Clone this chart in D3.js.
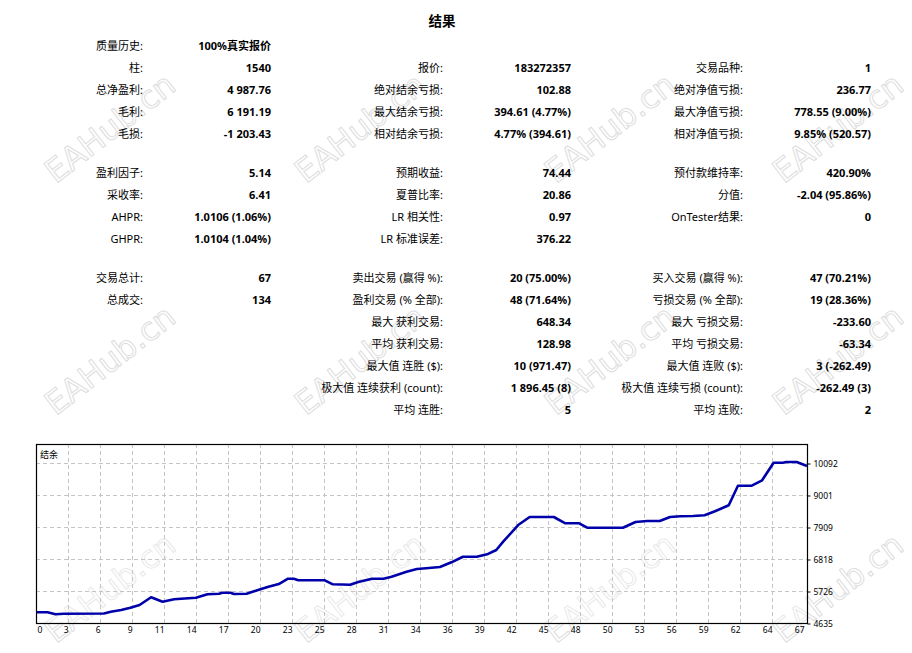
<!DOCTYPE html>
<html><head><meta charset="utf-8">
<script src="https://cdn.jsdelivr.net/npm/d3@7/dist/d3.min.js"></script>
<style>
html,body{margin:0;padding:0;background:#fff;}
svg{display:block;}
text{font-family:"Noto Sans","Noto Sans CJK SC",sans-serif;}
</style></head>
<body><svg id="c" width="912" height="653"></svg>
<script>
// ---------- table data ----------
const title = "结果";
const block1Labels1 = ["质量历史:", "柱:", "总净盈利:", "毛利:", "毛损:"];
const block1Values1 = ["100%真实报价", "1540", "4 987.76", "6 191.19", "-1 203.43"];
const block1Labels2 = ["", "报价:", "绝对结余亏损:", "最大结余亏损:", "相对结余亏损:"];
const block1Values2 = ["", "183272357", "102.88", "394.61 (4.77%)", "4.77% (394.61)"];
const block1Labels3 = ["", "交易品种:", "绝对净值亏损:", "最大净值亏损:", "相对净值亏损:"];
const block1Values3 = ["", "1", "236.77", "778.55 (9.00%)", "9.85% (520.57)"];

const block2Labels1 = ["盈利因子:", "采收率:", "AHPR:", "GHPR:"];
const block2Values1 = ["5.14", "6.41", "1.0106 (1.06%)", "1.0104 (1.04%)"];
const block2Labels2 = ["预期收益:", "夏普比率:", "LR 相关性:", "LR 标准误差:"];
const block2Values2 = ["74.44", "20.86", "0.97", "376.22"];
const block2Labels3 = ["预付款维持率:", "分值:", "OnTester结果:"];
const block2Values3 = ["420.90%", "-2.04 (95.86%)", "0"];

const block3Labels1 = ["交易总计:", "总成交:"];
const block3Values1 = ["67", "134"];
const block3Labels2 = ["卖出交易 (赢得 %):", "盈利交易 (% 全部):", "最大 获利交易:", "平均 获利交易:", "最大值 连胜 ($):", "极大值 连续获利 (count):", "平均 连胜:"];
const block3Values2 = ["20 (75.00%)", "48 (71.64%)", "648.34", "128.98", "10 (971.47)", "1 896.45 (8)", "5"];
const block3Labels3 = ["买入交易 (赢得 %):", "亏损交易 (% 全部):", "最大 亏损交易:", "平均 亏损交易:", "最大值 连败 ($):", "极大值 连续亏损 (count):", "平均 连败:"];
const block3Values3 = ["47 (70.21%)", "19 (28.36%)", "-233.60", "-63.34", "3 (-262.49)", "-262.49 (3)", "2"];

// ---------- chart data ----------
const chartLabel = "结余";
const xTickLabels = ["0","3","6","9","11","14","17","20","23","25","28","31","34","36","39","42","45","48","50","53","56","59","62","64","67"];
const yTickValues = [4635, 5726, 6818, 7909, 9001, 10092];
const tradeNo = [0,1,1.7,2.4,5.9,6.5,7.4,8.2,9.0,10.0,11.0,12.0,12.6,13.9,14.9,15.9,16.2,16.9,17.2,18.3,19.3,20.2,21.1,21.9,22.4,22.8,25.1,25.8,27.3,28.0,29.2,30.2,30.9,32.2,33.1,33.9,35.1,36.1,37.1,38.3,39.2,40.0,40.6,41.9,42.9,45.0,46.0,47.2,47.9,51.0,52.1,53.1,54.2,55.1,56.0,57.1,58.1,59.0,60.2,61.0,62.2,63.1,64.1,64.9,65.2,66.1,67];
const balance = [5000,5000,4935,4950,4960,5020,5078,5157,5249,5512,5361,5443,5464,5498,5614,5634,5668,5668,5624,5634,5760,5873,5965,6146,6146,6091,6091,5955,5941,6033,6146,6146,6214,6385,6477,6501,6545,6705,6896,6896,6978,7125,7408,7977,8250,8250,8035,8035,7885,7885,8080,8114,8114,8250,8274,8284,8308,8445,8649,9318,9318,9502,10102,10102,10126,10126,9988];

const watermark = "EAHub.cn";

// ---------- drawing ----------
const svg = d3.select("#c");
svg.append("rect").attr("width",912).attr("height",653).attr("fill","#fff");

// watermark (drawn beneath content, faint outline)
const wmCols = [110, 360, 610, 838];
const wmRows = [128, 360, 588];
const wm = svg.append("g").attr("pointer-events","none");
wmRows.forEach(cy => wmCols.forEach(cx => {
  wm.append("text").attr("transform",`translate(${cx},${cy}) rotate(-38)`)
    .attr("text-anchor","middle").attr("dominant-baseline","central")
    .attr("font-size",32).style("font-family","'DejaVu Sans',sans-serif")
    .attr("fill","none").attr("stroke","#dddddd").attr("stroke-width",1).text(watermark);
}));

// title
svg.append("text").attr("x",442).attr("y",21).attr("text-anchor","middle")
  .attr("dominant-baseline","central").attr("font-size",13.5).attr("font-weight","bold")
  .attr("fill","#000").text(title);

const colLabelX = [143, 443, 743];
const colValueX = [271, 571, 871];
const blocks = [
  {y0:45, cols:[[block1Labels1,block1Values1],[block1Labels2,block1Values2],[block1Labels3,block1Values3]]},
  {y0:172, cols:[[block2Labels1,block2Values1],[block2Labels2,block2Values2],[block2Labels3,block2Values3]]},
  {y0:277, cols:[[block3Labels1,block3Values1],[block3Labels2,block3Values2],[block3Labels3,block3Values3]]}
];
const rowH = 22;
const tbl = svg.append("g");
blocks.forEach(b => {
  b.cols.forEach((c, ci) => {
    c[0].forEach((lab, ri) => {
      const y = b.y0 + ri*rowH;
      if (lab) tbl.append("text").attr("x",colLabelX[ci]).attr("y",y).attr("text-anchor","end")
        .attr("dominant-baseline","central").attr("font-size",11).attr("fill","#000").text(lab);
      const v = c[1][ri];
      if (v) tbl.append("text").attr("x",colValueX[ci]).attr("y",y).attr("text-anchor","end")
        .attr("dominant-baseline","central").attr("font-size",11).attr("font-weight","bold").attr("fill","#000").text(v);
    });
  });
});

// chart
const L = 36, R = 807, T = 444, B = 623;
const x = d3.scaleLinear().domain([0, 67]).range([L, R]);
const gridX = d3.scaleLinear().domain([0, xTickLabels.length-1]).range([L, 804]);
const y = d3.scaleLinear().domain([4635, 10092]).range([B, 463]);

const g = svg.append("g");
g.append("rect").attr("x",L).attr("y",T).attr("width",R-L).attr("height",B-T).attr("fill","#fff").attr("fill-opacity",0.35);
// grid
g.selectAll("line.vg").data(d3.range(1, xTickLabels.length-1)).join("line")
  .attr("x1",d=>Math.round(gridX(d))+0.5).attr("x2",d=>Math.round(gridX(d))+0.5)
  .attr("y1",T).attr("y2",B).attr("stroke","#c4c4c4").attr("stroke-dasharray","4,3");
g.selectAll("line.hg").data(yTickValues.slice(1)).join("line")
  .attr("x1",L).attr("x2",R).attr("y1",d=>Math.round(y(d))+0.5).attr("y2",d=>Math.round(y(d))+0.5)
  .attr("stroke","#c4c4c4").attr("stroke-dasharray","4,3");

// line
const line = d3.line().x((d,i)=>x(tradeNo[i])).y(d=>y(d));
g.append("path").datum(balance).attr("d",line).attr("fill","none")
  .attr("stroke","#0000aa").attr("stroke-width",2.6).attr("stroke-linejoin","round");

// frame
g.append("rect").attr("x",L+0.5).attr("y",T+0.5).attr("width",R-L).attr("height",B-T)
  .attr("fill","none").attr("stroke","#000").attr("stroke-width",1.2);

// y axis (right)
const yAxis = d3.axisRight(y).tickValues(yTickValues).tickSize(3).tickPadding(3).tickFormat(d3.format("d"));
const ya = svg.append("g").attr("transform",`translate(${R+0.5},0.5)`).call(yAxis);
ya.select(".domain").remove();
ya.selectAll("text").attr("font-size",8.5).attr("fill","#000").style("font-family","'Noto Sans',sans-serif");
ya.selectAll("line").attr("stroke","#000");

// x axis (labels)
const xAxis = d3.axisBottom(gridX).tickValues(d3.range(xTickLabels.length)).tickSize(0).tickPadding(4)
  .tickFormat(i => xTickLabels[i]);
const xa = svg.append("g").attr("transform",`translate(0,${B})`).call(xAxis);
xa.select(".domain").remove();
xa.selectAll("text").attr("font-size",8.5).attr("fill","#000").style("font-family","'Noto Sans',sans-serif")
  .attr("text-anchor",(d,i)=> i===0 ? "start" : "end").attr("dx",(d,i)=> i===0 ? "1" : "0");

// chart label
svg.append("text").attr("x",40).attr("y",454).attr("dominant-baseline","central")
  .attr("font-size",9).attr("fill","#000").text(chartLabel);
</script></body></html>
